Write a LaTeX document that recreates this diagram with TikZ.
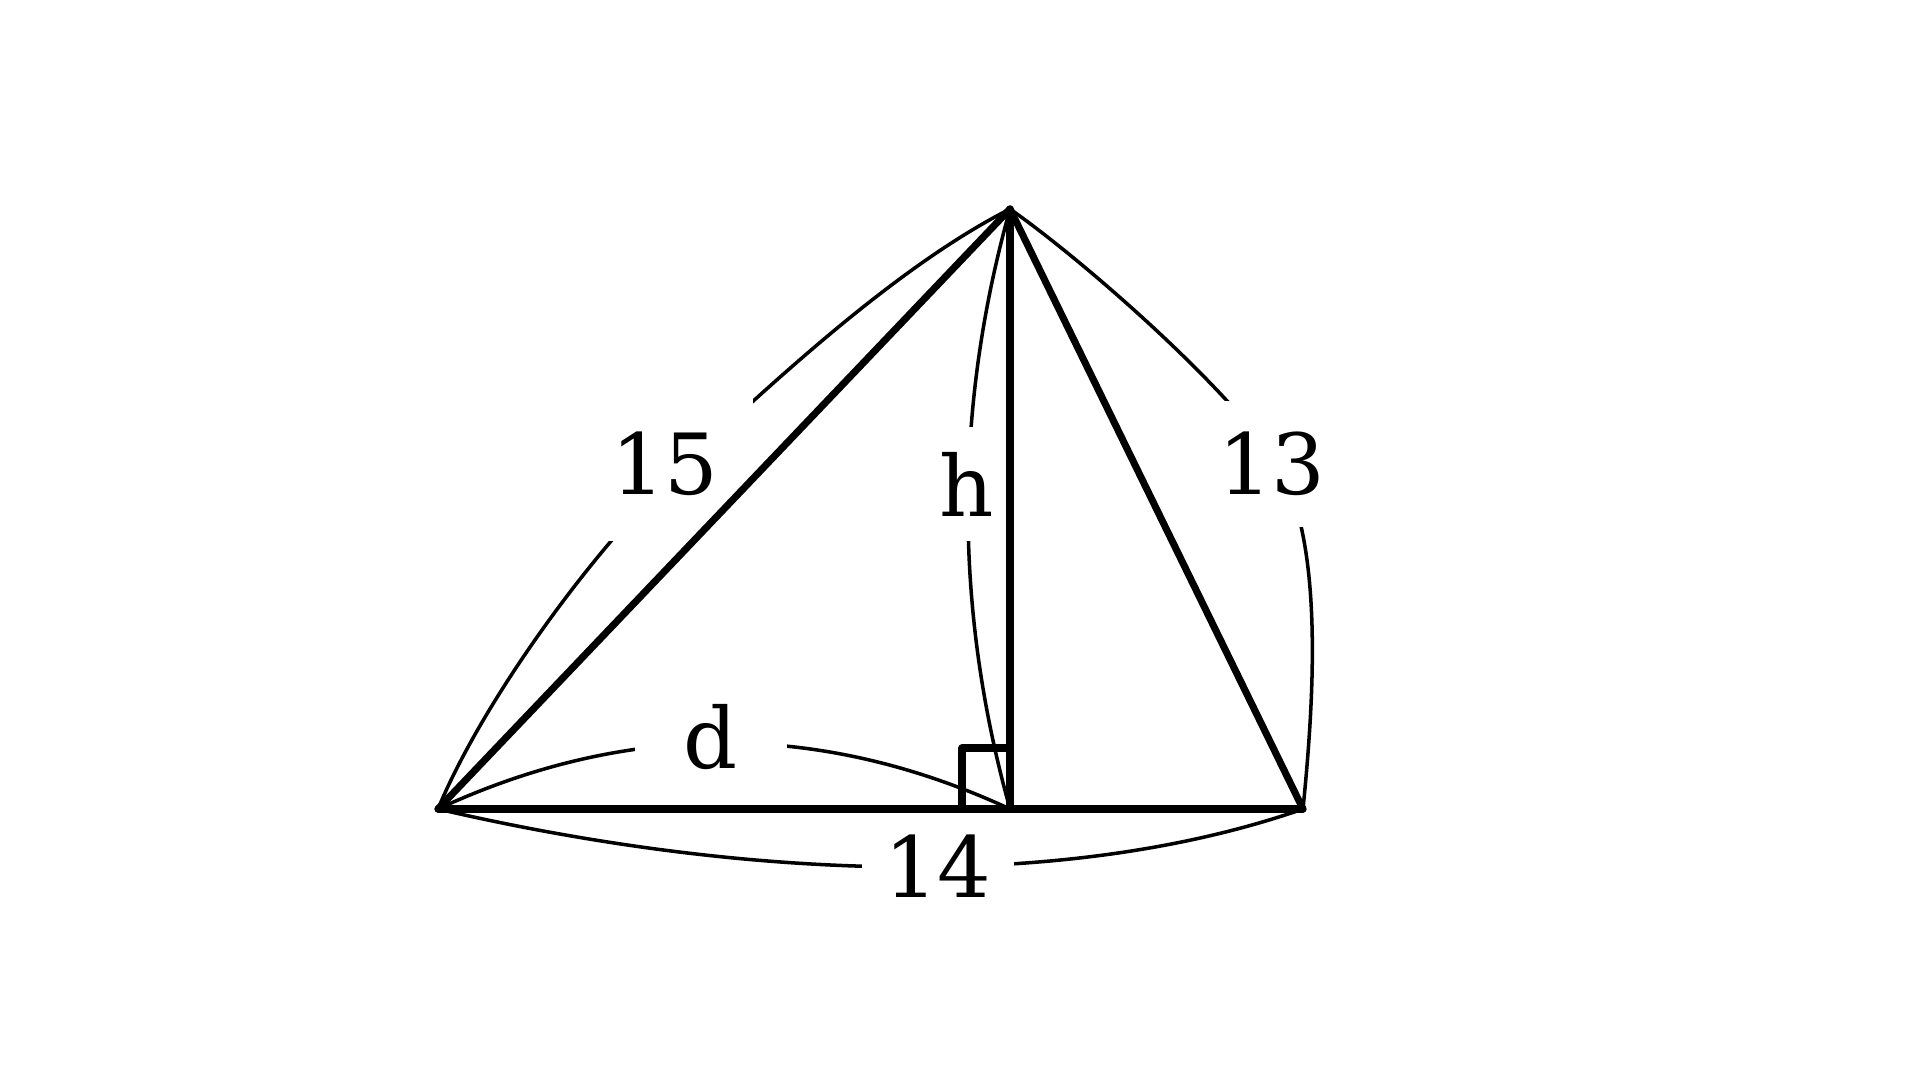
\documentclass[tikz,border=0pt]{standalone}
\usepackage{fontspec}
\setmainfont{DejaVu Serif}
\tikzset{
  side/.style={line width=2pt, line cap=round, line join=round},
  arc/.style={line width=1pt},
  lbl/.style={fill=white, inner sep=0pt, font=\fontsize{24}{29}\selectfont},
}
\begin{document}
\begin{tikzpicture}[x=0.01cm, y=-0.01cm]
  \useasboundingbox (0,0) rectangle (1920,1080);
  \path
    (438,809) coordinate (A)
    (1303,809) coordinate (B)
    (1010,209) coordinate (C)
    (1010,809) coordinate (D)
    (674,474) coordinate (m15)
    (1275,460) coordinate (m13);
  % arcs for the lengths
  \begin{scope}[arc]
    \draw (A) .. controls +(46,-111) and +(-78,73) .. (m15)
              .. controls +(95,-88) and +(-116,59) .. (C);
    \draw (C) .. controls +(74,52) and +(-50,-75) .. (m13)
              .. controls +(50,75) and +(11,-110) .. (B);
    \draw (C) .. controls +(-56,200) and +(-56,-200) .. (D);
    \draw (A) .. controls +(190,-88) and +(-190,-88) .. (D);
    \draw (A) .. controls +(288,67) and +(-250,87) .. (B);
  \end{scope}
  \node[lbl, inner xsep=9.7pt, inner ysep=12.8pt] (l15) at (665,464) {15};
  \node[lbl, inner xsep=0.4pt, inner ysep=8.8pt] (l13) at (1272,464) {13};
  \node[lbl, inner xsep=1pt, inner ysep=7pt] (lh) at (967,484) {h};
  \node[lbl, inner xsep=14pt, inner ysep=2pt] (ld) at (711,737) {d};
  \node[lbl, inner xsep=6.3pt, inner ysep=2pt] (l14) at (938,866) {14};
  % triangle and height
  \begin{scope}[side]
    \draw (A) to (B);
    \draw (A) to (C);
    \draw (B) to (C);
    \draw (C) to (D);
    \draw (D) ++(-48,0) |- ++(48,-61);
  \end{scope}
\end{tikzpicture}
\end{document}
